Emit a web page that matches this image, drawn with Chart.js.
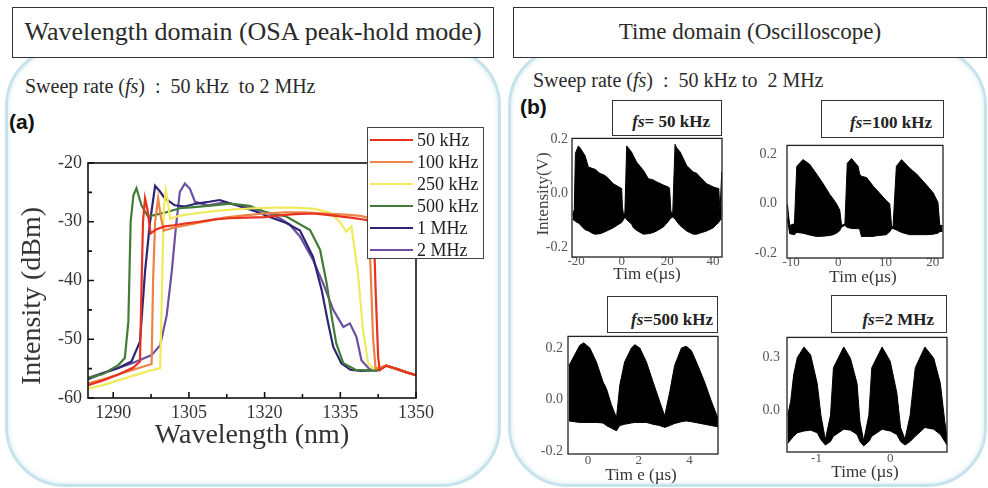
<!DOCTYPE html>
<html lang="en">
<head>
<meta charset="UTF-8">
<title>Swept source: wavelength and time domain</title>
<script src="https://cdn.jsdelivr.net/npm/chart.js@4"></script>
<style>
  body { margin: 0; width: 988px; height: 488px; position: relative; overflow: hidden; background: #fff;
         font-family: "Liberation Serif", "Times New Roman", serif; color: #2a2a2a; }
  .panel { position: absolute; box-sizing: border-box; border: 3px solid #c6e3ec; border-radius: 60px;
           box-shadow: inset 0 0 5px rgba(175, 215, 228, 0.6); }
  .head { position: absolute; box-sizing: border-box; border: 1.5px solid #333; background: #fff;
          text-align: center; line-height: 47px; white-space: nowrap; z-index: 2; }
  .sweep { position: absolute; font-size: 20px; white-space: nowrap; }
  .tag { position: absolute; font-family: "Liberation Sans", Arial, sans-serif; font-weight: bold; font-size: 21px; color: #111; }
  canvas { position: absolute; }
  .c { position: absolute; transform: translate(-50%, -50%); white-space: nowrap; }
  .rot { transform: translate(-50%, -50%) rotate(-90deg); }
  .legend { position: absolute; left: 367px; top: 127px; width: 117px; height: 132px; box-sizing: border-box;
            border: 1.5px solid #444; background: #fff; padding-top: 1px; z-index: 3; }
  .legend div { height: 22px; display: flex; align-items: center; font-size: 18px; color: #222; }
  .legend span { display: inline-block; width: 43px; height: 2.5px; margin: 0 4px 0 2px; }
  .fs { position: absolute; box-sizing: border-box; border: 1.5px solid #333; background: #fff; z-index: 2;
        font-weight: bold; font-size: 17px; color: #222; text-align: right; white-space: nowrap; }
</style>
</head>
<body>
<div class="panel" style="left:5px; top:46px; width:496px; height:441px;"></div>
<div class="panel" style="left:508px; top:46px; width:479px; height:441px;"></div>

<div class="head" style="left:12px; top:7px; width:482px; height:51px; font-size:26px;">Wavelength domain (OSA peak-hold mode)</div>
<div class="head" style="left:513px; top:7px; width:474px; height:51px; font-size:23px;">Time domain (Oscilloscope)</div>

<div class="sweep" style="left:25px; top:75px;">Sweep rate (<i>fs</i>) &nbsp;:&nbsp; 50 kHz&nbsp; to 2 MHz</div>
<div class="sweep" style="left:533px; top:69px;">Sweep rate (<i>fs</i>) &nbsp;:&nbsp; 50 kHz to&nbsp; 2 MHz</div>
<div class="tag" style="left:9px; top:110px;">(a)</div>
<div class="tag" style="left:520px; top:95px;">(b)</div>

<canvas id="osa" width="440" height="310" style="left:0; top:140px;"></canvas>
<div class="legend" id="legend"></div>
<div class="c rot" style="left:31px; top:296px; font-size:28px; color:#333;">Intensity (dBm)</div>
<div class="c" style="left:252px; top:434px; font-size:28px; color:#333;">Wavelength (nm)</div>

<canvas id="s1" width="200" height="156" style="left:530px; top:126px;"></canvas>
<canvas id="s2" width="206" height="156" style="left:745px; top:127px;"></canvas>
<canvas id="s3" width="200" height="156" style="left:526px; top:323px;"></canvas>
<canvas id="s4" width="210" height="155" style="left:745px; top:322px;"></canvas>

<div class="fs" style="left:612px; top:100px; width:110px; height:36px; padding:11px 11px 0 0;"><i>fs</i>= 50 kHz</div>
<div class="fs" style="left:821px; top:100px; width:123px; height:38px; padding:12px 11px 0 0;"><i>fs</i>=100 kHz</div>
<div class="fs" style="left:607px; top:296px; width:111px; height:37px; padding:13px 4px 0 0;"><i>fs</i>=500 kHz</div>
<div class="fs" style="left:831px; top:295px; width:116px; height:38px; padding:14px 12px 0 0;"><i>fs</i>=2 MHz</div>

<div class="c rot" style="left:543px; top:194px; font-size:17px; color:#444;">Intensity(V)</div>
<div class="c" style="left:647px; top:274px; font-size:17px; color:#333;">Tim e(µs)</div>
<div class="c" style="left:863px; top:277px; font-size:17px; color:#333;">Tim e(µs)</div>
<div class="c" style="left:641px; top:475px; font-size:17px; color:#333;">Tim e (µs)</div>
<div class="c" style="left:865px; top:472px; font-size:17px; color:#333;">Time (µs)</div>

<script>
// ---- wavelength domain ----
const rates = ['50 kHz', '100 kHz', '250 kHz', '500 kHz', '1 MHz', '2 MHz'];
const rateColors = ['#e8321e', '#ea8446', '#f0ea5c', '#427c36', '#2c2474', '#6d50a2'];

const wl50 = [1285, 1288, 1291, 1294, 1295.3, 1295.6, 1295.9, 1296.3, 1296.8, 1297.4, 1298.5, 1300.2, 1302, 1304.2, 1307, 1310.1, 1313, 1316.4, 1320, 1323, 1326, 1329.6, 1332, 1334.9, 1337, 1340.2, 1341.6, 1342.0, 1342.5, 1342.8, 1344.1, 1346, 1348, 1350];
const db50 = [-57.8, -57.0, -56.0, -54.8, -53.8, -41.3, -30.0, -26.0, -28.0, -32.0, -31.3, -30.8, -30.6, -30.3, -30.0, -29.6, -29.4, -29.3, -29.2, -28.9, -28.7, -28.6, -28.8, -29.1, -29.3, -29.7, -30.4, -41.6, -53.0, -55.3, -54.5, -55.0, -55.6, -56.1];

const wl100 = [1285, 1288, 1291, 1294, 1297.6, 1297.9, 1298.3, 1298.9, 1299.4, 1300, 1302, 1305, 1308, 1312, 1316, 1320, 1324, 1328, 1332, 1336, 1339, 1340.5, 1341.0, 1341.5, 1342, 1344.1, 1346, 1348, 1350];
const db100 = [-57.5, -56.8, -56.0, -55.2, -54.2, -40.0, -30.0, -26.0, -29.0, -31.5, -31.0, -30.5, -30.0, -29.3, -28.9, -28.6, -28.4, -28.4, -28.6, -28.8, -29.0, -29.3, -38.0, -50.0, -55.0, -54.5, -55.0, -55.6, -56.1];

const wl250 = [1285, 1288, 1291, 1294, 1297, 1299.3, 1299.7, 1300.0, 1300.4, 1300.8, 1301.3, 1303, 1306, 1310, 1314, 1318, 1322, 1326, 1330, 1333, 1334.9, 1336.2, 1337.2, 1338.5, 1339.5, 1340.5, 1341.5, 1344.1, 1346, 1348, 1350];
const db250 = [-58.4, -57.8, -57.0, -56.2, -55.4, -54.9, -40.0, -28.0, -24.6, -26.5, -29.5, -29.0, -28.6, -28.2, -27.9, -27.7, -27.6, -27.6, -27.8, -28.5, -30.0, -31.7, -30.8, -38.8, -48.4, -54.1, -55.0, -54.5, -55.0, -55.6, -56.1];

const wl500 = [1285, 1288, 1291, 1292.3, 1293.0, 1293.45, 1294.0, 1294.6, 1295.6, 1296.9, 1300, 1303.2, 1306, 1309.8, 1313.1, 1317, 1320, 1324.3, 1329, 1331, 1332.3, 1333.3, 1334.2, 1335.6, 1338, 1340.2, 1342.2, 1344.1, 1346, 1348, 1350];
const db500 = [-56.6, -55.9, -54.4, -53.2, -47.0, -30.0, -25.5, -24.3, -27.2, -29.1, -28.5, -27.7, -27.5, -27.2, -26.9, -27.3, -28.3, -29.1, -31.4, -34.8, -40.5, -46.2, -50.7, -54.1, -55.2, -55.3, -55.3, -54.5, -55.0, -55.6, -56.1];

const wl1m = [1285, 1288, 1291, 1293.6, 1295.3, 1296.3, 1297.3, 1298.3, 1299.3, 1300.2, 1302.2, 1304.2, 1306.5, 1309, 1311.1, 1314.4, 1318.4, 1321, 1324.3, 1327, 1329.6, 1331.3, 1332.6, 1333.6, 1335.2, 1337, 1339, 1341.4, 1342.2, 1344.1, 1346, 1348, 1350];
const db1m = [-56.8, -55.8, -54.9, -53.8, -50.4, -38.5, -30.0, -23.9, -24.9, -26.0, -27.2, -27.4, -26.9, -26.6, -26.3, -27.2, -28.3, -29.2, -30.2, -31.5, -36.0, -41.6, -47.3, -51.3, -54.1, -55.2, -55.4, -55.3, -55.3, -54.5, -55.0, -55.6, -56.1];

const wl2m = [1285, 1288, 1291, 1294, 1297.6, 1299.3, 1300.6, 1301.6, 1302.4, 1303.2, 1304.2, 1305.2, 1306.2, 1308.8, 1312, 1316, 1320, 1323, 1325, 1327, 1329.6, 1331.6, 1333.6, 1335.6, 1336.9, 1338.2, 1339.2, 1340.8, 1342.2, 1344.1, 1346, 1348, 1350];
const db2m = [-56.6, -55.7, -54.9, -54.0, -52.7, -51.0, -45.9, -38.5, -31.1, -24.9, -23.5, -24.4, -26.6, -27.2, -26.7, -27.4, -28.3, -29.4, -30.5, -32.5, -36.5, -40.5, -45.0, -47.9, -47.3, -49.6, -53.6, -55.1, -55.3, -54.5, -55.0, -55.6, -56.1];

const wlTicks = [1290, 1305, 1320, 1335, 1350];
const dbTicks = [-60, -50, -40, -30, -20];

// ---- time domain: upper and lower envelope of each scope trace ----
const t50 = [-21.5, -20.8, -20.3, -19.0, -18.3, -16.1, -14.6, -12.5, -11.7, -9.5, -8.1, -6.6, -3.7, 0.0, 0.3, 0.8, 1.4, 2.2, 4.4, 5.1, 6.6, 9.5, 11.7, 13.9, 15.3, 18.3, 20.4, 21.0, 21.6, 22.4, 23.4, 24.1, 25.6, 28.5, 31.4, 32.9, 34.3, 37.3, 40.2, 41.7, 42.6, 43.1, 43.9];
const up50 = [-0.08, -0.06, 0.15, 0.177, 0.17, 0.141, 0.098, 0.092, 0.09, 0.074, 0.07, 0.062, 0.036, 0.018, -0.05, -0.08, -0.07, 0.177, 0.153, 0.14, 0.116, 0.086, 0.055, 0.05, 0.043, 0.031, 0.024, 0.02, -0.07, -0.07, 0.183, 0.17, 0.155, 0.104, 0.08, 0.075, 0.062, 0.036, 0.024, 0.02, 0.018, -0.07, 0.08];
const lo50 = [-0.098, -0.1, -0.105, -0.11, -0.116, -0.135, -0.14, -0.15, -0.152, -0.15, -0.146, -0.14, -0.128, -0.108, -0.104, -0.098, -0.088, -0.098, -0.115, -0.128, -0.138, -0.152, -0.15, -0.146, -0.14, -0.125, -0.105, -0.098, -0.092, -0.088, -0.095, -0.104, -0.12, -0.14, -0.152, -0.152, -0.148, -0.14, -0.128, -0.115, -0.108, -0.1, -0.095];

const t100 = [-10.8, -10.3, -9.3, -8.8, -7.5, -6.1, -4.6, -3.2, -1.8, -1.1, -0.4, 0.3, 0.7, 1.4, 1.9, 2.8, 4.2, 4.5, 4.9, 6.0, 7.4, 8.1, 10.2, 10.9, 11.3, 11.6, 12.3, 13.4, 15.1, 16.6, 18.7, 20.1, 21.1, 21.5, 22.1];
const up100 = [0.0, -0.087, -0.08, 0.15, 0.177, 0.159, 0.119, 0.08, 0.037, 0.02, 0.0, -0.025, -0.087, -0.08, 0.162, 0.181, 0.15, 0.12, 0.11, 0.105, 0.07, 0.056, 0.012, 0.0, -0.095, -0.09, 0.15, 0.177, 0.143, 0.119, 0.075, 0.044, 0.006, -0.087, -0.087];
const lo100 = [-0.06, -0.12, -0.124, -0.115, -0.118, -0.125, -0.131, -0.13, -0.127, -0.124, -0.118, -0.108, -0.093, -0.087, -0.095, -0.099, -0.1, -0.1, -0.131, -0.131, -0.131, -0.128, -0.124, -0.112, -0.1, -0.099, -0.105, -0.115, -0.124, -0.124, -0.124, -0.122, -0.118, -0.112, -0.11];

const t500 = [-0.75, -0.33, -0.17, 0.07, 0.33, 0.59, 0.72, 0.92, 1.12, 1.25, 1.44, 1.71, 1.84, 2.04, 2.30, 2.56, 2.82, 3.02, 3.22, 3.41, 3.68, 3.87, 4.07, 4.33, 4.59, 4.86, 5.06, 5.12];
const up500 = [0.132, 0.21, 0.22, 0.2, 0.146, 0.069, 0.044, -0.019, -0.07, 0.056, 0.146, 0.2, 0.213, 0.2, 0.146, 0.069, -0.006, -0.063, 0.031, 0.132, 0.2, 0.207, 0.19, 0.132, 0.069, -0.006, -0.057, -0.07];
const lo500 = [-0.082, -0.088, -0.088, -0.088, -0.088, -0.09, -0.1, -0.11, -0.12, -0.1, -0.095, -0.09, -0.088, -0.088, -0.088, -0.095, -0.1, -0.107, -0.1, -0.092, -0.085, -0.082, -0.085, -0.09, -0.095, -0.1, -0.104, -0.104];

const t2m = [-1.39, -1.35, -1.31, -1.26, -1.17, -1.08, -0.99, -0.94, -0.88, -0.81, -0.77, -0.63, -0.54, -0.45, -0.41, -0.36, -0.29, -0.25, -0.11, 0.0, 0.09, 0.14, 0.2, 0.27, 0.34, 0.47, 0.59, 0.68, 0.74, 0.77];
const up2m = [-0.03, 0.05, 0.2, 0.3, 0.36, 0.315, 0.152, -0.03, -0.17, -0.03, 0.242, 0.36, 0.296, 0.152, -0.067, -0.176, -0.03, 0.242, 0.36, 0.278, 0.097, -0.1, -0.167, -0.03, 0.242, 0.36, 0.296, 0.152, -0.067, -0.15];
const lo2m = [-0.19, -0.17, -0.15, -0.13, -0.12, -0.115, -0.13, -0.17, -0.2, -0.18, -0.15, -0.11, -0.115, -0.14, -0.18, -0.205, -0.18, -0.15, -0.11, -0.12, -0.14, -0.18, -0.2, -0.18, -0.15, -0.1, -0.11, -0.14, -0.18, -0.2];

const scopeXTicks = [[-20, 0, 20, 40], [-10, 0, 10, 20], [0, 2, 4], [-1, 0]];
const scopeYTicks = [[-0.2, 0.0, 0.2], [-0.2, 0.0, 0.2], [-0.2, 0.0, 0.2], [0.0, 0.3]];

// frame round the plot area, optional inward major/minor ticks
const frame = {
    id: 'frame',
    afterDatasetsDraw(chart, args, o) {
        const { ctx, chartArea: a } = chart;
        ctx.save();
        ctx.strokeStyle = o.color;
        ctx.lineWidth = o.width;
        if (o.inner) {
            ctx.beginPath();
            ['x', 'y'].forEach(k => {
                const s = chart.scales[k];
                const vals = s.ticks.map(t => t.value);
                vals.forEach((v, i) => {
                    const marks = [[v, 6]];
                    if (i > 0) marks.push([(v + vals[i - 1]) / 2, 4]);
                    marks.forEach(([mv, len]) => {
                        const p = s.getPixelForValue(mv);
                        if (k === 'x') { ctx.moveTo(p, a.bottom); ctx.lineTo(p, a.bottom - len); }
                        else { ctx.moveTo(a.left, p); ctx.lineTo(a.left + len, p); }
                    });
                });
            });
            ctx.stroke();
        }
        ctx.strokeRect(a.left, a.top, a.right - a.left, a.bottom - a.top);
        ctx.restore();
    }
};

const serif = 'Liberation Serif';

const osaSets = [[wl50, db50], [wl100, db100], [wl250, db250], [wl500, db500], [wl1m, db1m], [wl2m, db2m]];

new Chart(document.getElementById('osa'), {
    type: 'line',
    data: {
        datasets: osaSets.map(([w, d], i) => ({
            label: rates[i],
            data: w.map((x, j) => ({ x: x, y: d[j] })),
            borderColor: rateColors[i],
            borderWidth: 2.2,
            pointRadius: 0,
            tension: 0,
            fill: false
        }))
    },
    options: {
        responsive: false,
        animation: false,
        devicePixelRatio: 1,
        layout: { padding: { top: 23, right: 24, left: 0, bottom: 0 } },
        plugins: {
            legend: { display: false },
            tooltip: { enabled: false },
            frame: { inner: true, width: 1.6, color: '#111' }
        },
        scales: {
            x: {
                type: 'linear', min: 1285, max: 1350,
                afterBuildTicks: s => { s.ticks = wlTicks.map(value => ({ value })); },
                afterFit: s => { s.height = 52; },
                grid: { display: false, drawTicks: false },
                border: { display: false },
                ticks: { color: '#333', padding: 4, maxRotation: 0, autoSkip: false, font: { family: serif, size: 18 },
                         callback: v => String(v) }
            },
            y: {
                type: 'linear', min: -60, max: -20,
                afterBuildTicks: s => { s.ticks = dbTicks.map(value => ({ value })); },
                afterFit: s => { s.width = 88; },
                grid: { display: false, drawTicks: false },
                border: { display: false },
                ticks: { color: '#333', padding: 6, autoSkip: false, font: { family: serif, size: 18 },
                         callback: v => String(v) }
            }
        }
    },
    plugins: [frame]
});

// legend built from the same series names and colours
document.getElementById('legend').innerHTML = rates.map((r, i) =>
    '<div><span style="background:' + rateColors[i] + '"></span>' + r + '</div>').join('');

// one small oscilloscope plot: black band between the two envelopes
function scope(id, t, up, lo, xr, yr, xt, yt, lay) {
    new Chart(document.getElementById(id), {
        type: 'line',
        data: {
            datasets: [
                { data: t.map((x, j) => ({ x: x, y: up[j] })), borderColor: '#000', borderWidth: 1,
                  backgroundColor: '#000', pointRadius: 0, tension: 0, fill: '+1' },
                { data: t.map((x, j) => ({ x: x, y: lo[j] })), borderColor: '#000', borderWidth: 1,
                  pointRadius: 0, tension: 0, fill: false }
            ]
        },
        options: {
            responsive: false,
            animation: false,
            devicePixelRatio: 1,
            layout: { padding: { top: 10, right: 8, left: 0, bottom: 0 } },
            plugins: {
                legend: { display: false },
                tooltip: { enabled: false },
                frame: { inner: false, width: 1.3, color: '#222' }
            },
            scales: {
                x: {
                    type: 'linear', min: xr[0], max: xr[1],
                    afterBuildTicks: s => { s.ticks = xt.map(value => ({ value })); },
                    afterFit: s => { s.height = lay.xh; },
                    grid: { display: false, drawTicks: false },
                    border: { display: false },
                    ticks: { color: '#555', padding: lay.xp, maxRotation: 0, autoSkip: false, font: { family: serif, size: 13 },
                             callback: v => String(v) }
                },
                y: {
                    type: 'linear', min: yr[0], max: yr[1],
                    afterBuildTicks: s => { s.ticks = yt.map(value => ({ value })); },
                    afterFit: s => { s.width = 42; },
                    grid: { display: false, drawTicks: false },
                    border: { display: false },
                    ticks: { color: '#555', padding: lay.yp, autoSkip: false, font: { family: serif, size: 14 },
                             callback: v => v.toFixed(1) }
                }
            }
        },
        plugins: [frame]
    });
}

scope('s1', t50, up50, lo50, [-21.8, 44], [-0.237, 0.205], scopeXTicks[0], scopeYTicks[0], { xh: 25, xp: -3, yp: 4 });
scope('s2', t100, up100, lo100, [-10.87, 22.18], [-0.2175, 0.234], scopeXTicks[1], scopeYTicks[1], { xh: 25, xp: -3, yp: 10 });
scope('s3', t500, up500, lo500, [-0.79, 5.12], [-0.21, 0.245], scopeXTicks[2], scopeYTicks[2], { xh: 25, xp: -1, yp: 5 });
scope('s4', t2m, up2m, lo2m, [-1.40, 0.77], [-0.24, 0.415], scopeXTicks[3], scopeYTicks[3], { xh: 25, xp: -1, yp: 7 });
</script>
</body>
</html>
